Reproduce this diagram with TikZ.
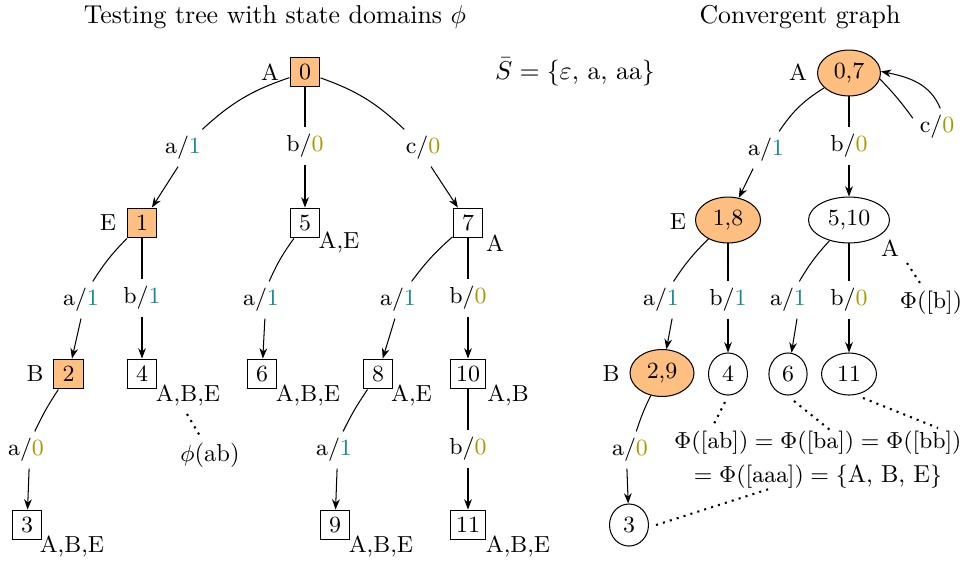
\documentclass[tikz,border=0pt]{standalone}
\usetikzlibrary{arrows.meta,shapes.geometric}
\definecolor{onec}{RGB}{20,140,140}
\definecolor{zeroc}{RGB}{165,155,0}
\definecolor{fillo}{RGB}{255,191,128}
\newcommand{\vone}{\textcolor{onec}{1}}
\newcommand{\vzero}{\textcolor{zeroc}{0}}
\tikzset{
  box/.style={draw, font=\small, minimum width=11.6pt, minimum height=11.6pt, inner sep=2pt},
  hl/.style={fill=fillo},
  elab/.style={font=\small, inner sep=2.5pt},
  tag/.style={font=\small, inner sep=0pt},
  ell/.style={draw, ellipse, font=\small, inner sep=0pt},
  arr/.style={-{Stealth[length=4pt,width=3pt]}},
  dots/.style={dotted, line width=0.8pt},
  ann/.style={font=\fontsize{9.5}{13.2}\selectfont, inner sep=0pt},
}
\begin{document}
\begin{tikzpicture}[x=0.3876pt, y=-0.3876pt]
\useasboundingbox (0,0) rectangle (970,563);

% titles
\node (title1) at (275,17) {Testing tree with state domains $\phi$};
\node (title2) at (800,17) {Convergent graph};
\node (sbar) at (575,72) {$\bar{S} = \{\varepsilon$, a, aa$\}$};

% ---------------- left tree ----------------
\node[box,hl] (n0) at (305,72) {0};
\node[tag] (t0) at (270,72) {A};
\node[box,hl] (n1) at (142,223) {1};
\node[tag] (t1) at (108,223) {E};
\node[box] (n5) at (305,223) {5};
\node[tag] (t5) at (339,242) {A,E};
\node[box] (n7) at (468,223) {7};
\node[tag] (t7) at (495,243) {A};
\node[box,hl] (n2) at (68.5,374) {2};
\node[tag] (t2) at (35,374) {B};
\node[box] (n4) at (142,374) {4};
\node[tag] (t4) at (188,395) {A,B,E};
\node[box] (n6) at (262,374) {6};
\node[tag] (t6) at (308,395) {A,B,E};
\node[box] (n8) at (378,374) {8};
\node[tag] (t8) at (411.5,395) {A,E};
\node[box] (n10) at (468,374) {10};
\node[tag] (t10) at (508,395) {A,B};
\node[box] (n3) at (27,525) {3};
\node[tag] (t3) at (72,546) {A,B,E};
\node[box] (n9) at (335,525) {9};
\node[tag] (t9) at (381,546) {A,B,E};
\node[box] (n11) at (468,525) {11};
\node[tag] (t11) at (518,546) {A,B,E};
\node[ann] (phiab) at (210,455) {$\phi$(ab)};

% edge labels
\node[elab] (la01) at (183,148) {a/\vone};
\node[elab] (lb05) at (305,146) {b/\vzero};
\node[elab] (lc07) at (423,148) {c/\vzero};
\node[elab] (la12) at (81,300) {a/\vone};
\node[elab] (lb14) at (142,298) {b/\vone};
\node[elab] (la56) at (261,300) {a/\vone};
\node[elab] (la78) at (398,300) {a/\vone};
\node[elab] (lb710) at (468,298) {b/\vzero};
\node[elab] (la23) at (26,450) {a/\vzero};
\node[elab] (la89) at (334,450) {a/\vone};
\node[elab] (lb1011) at (468,449) {b/\vzero};

% edges
\draw (n0) to[bend right=12] (la01);
\draw[arr] ([xshift=-1.9pt]la01.south) -- (n1);
\draw (n0) -- (lb05);
\draw[arr] (lb05) -- (n5);
\draw (n0) to[bend left=12] (lc07);
\draw[arr] ([xshift=3.1pt]lc07.south) -- (n7);
\draw (n1) to[bend right=6] (la12);
\draw[arr] (la12.south) -- (n2);
\draw (n1) -- (lb14);
\draw[arr] (lb14) -- (n4);
\draw (n5) to[bend right=6] (la56);
\draw[arr] ([xshift=1.5pt]la56.south) -- (n6);
\draw (n7) to[bend right=6] (la78);
\draw[arr] ([xshift=-1.2pt]la78.south) -- (n8);
\draw (n7) -- (lb710);
\draw[arr] (lb710) -- (n10);
\draw (n2) to[bend right=4] (la23);
\draw[arr] ([xshift=1.2pt]la23.south) -- (n3);
\draw (n8) to[bend right=4] (la89);
\draw[arr] ([xshift=1.2pt]la89.south) -- (n9);
\draw (n10) -- (lb1011);
\draw[arr] (lb1011) -- (n11);

\coordinate (dl1) at (187,414);
\coordinate (dl2) at (200,436);
\draw[dots] (dl1) -- (dl2);

% ---------------- right graph ----------------
\node[ell,hl,minimum width=24.4pt,minimum height=17.8pt] (m07) at (849,73) {0,7};
\node[tag] (s07) at (798,72) {A};
\node[ell,hl,minimum width=25.2pt,minimum height=17.8pt] (m18) at (728,220) {1,8};
\node[tag] (s18) at (678,222) {E};
\node[ell,minimum width=31.4pt,minimum height=17.8pt] (m510) at (849,220) {5,10};
\node[tag] (s510) at (890,248) {A};
\node[ell,hl,minimum width=24.8pt,minimum height=18.2pt] (m29) at (662,373) {2,9};
\node[tag] (s29) at (611,374) {B};
\node[ell,minimum width=15.1pt,minimum height=16.3pt] (m4) at (728,374) {4};
\node[ell,minimum width=14.8pt,minimum height=16.3pt] (m6) at (788,374) {6};
\node[ell,minimum width=21.3pt,minimum height=16.3pt] (m11) at (849,374) {11};
\node[ell,minimum width=15.1pt,minimum height=16.3pt] (m3) at (629,525) {3};

\node[elab] (ra07) at (766,150) {a/\vone};
\node[elab] (rb07) at (849,146) {b/\vzero};
\node[elab] (rc07) at (937,127) {c/\vzero};
\node[elab] (ra18) at (661,300) {a/\vone};
\node[elab] (rb18) at (728,300) {b/\vone};
\node[elab] (ra510) at (788,300) {a/\vone};
\node[elab] (rb510) at (849,300) {b/\vzero};
\node[elab] (ra29) at (630,450) {a/\vzero};

\node[ann] (phib) at (931,303) {$\Phi([\mathrm{b}])$};
\node[ann, align=center] (phibig) at (818,460)
  {$\Phi([\mathrm{ab}]) = \Phi([\mathrm{ba}]) = \Phi([\mathrm{bb}])$\\
   $= \Phi([\mathrm{aaa}]) = \{\mbox{A, B, E}\}$};

\draw (m07) to[bend right=12] (ra07);
\draw[arr] ([xshift=-5pt]ra07.south) -- (m18);
\draw (m07) -- (rb07);
\draw[arr] (rb07) -- (m510);
\draw (m07.-11) to[bend left=4] (rc07.160);
\draw[arr] (rc07.80) to[out=112, in=-12] (m07.3);
\draw (m18) to[bend right=6] (ra18);
\draw[arr] ([xshift=4.3pt]ra18.south) -- (m29);
\draw (m18) -- (rb18);
\draw[arr] (rb18) -- (m4);
\draw (m510) to[bend right=6] (ra510);
\draw[arr] ([xshift=3.5pt]ra510.south) -- (m6);
\draw (m510) -- (rb510);
\draw[arr] (rb510) -- (m11);
\draw (m29) to[bend right=4] (ra29);
\draw[arr] ([xshift=-1.2pt]ra29.south) -- (m3);

\coordinate (dr1a) at (907,263);
\coordinate (dr1b) at (920,283);
\coordinate (dr2a) at (725,402);
\coordinate (dr2b) at (713,426);
\coordinate (dr3a) at (794,401);
\coordinate (dr3b) at (830,430);
\coordinate (dr4a) at (863,398);
\coordinate (dr4b) at (938,428);
\coordinate (dr5a) at (656,525);
\coordinate (dr5b) at (769,489);
\draw[dots] (dr1a) -- (dr1b);
\draw[dots] (dr2a) -- (dr2b);
\draw[dots] (dr3a) -- (dr3b);
\draw[dots] (dr4a) -- (dr4b);
\draw[dots] (dr5a) -- (dr5b);
\end{tikzpicture}
\end{document}
